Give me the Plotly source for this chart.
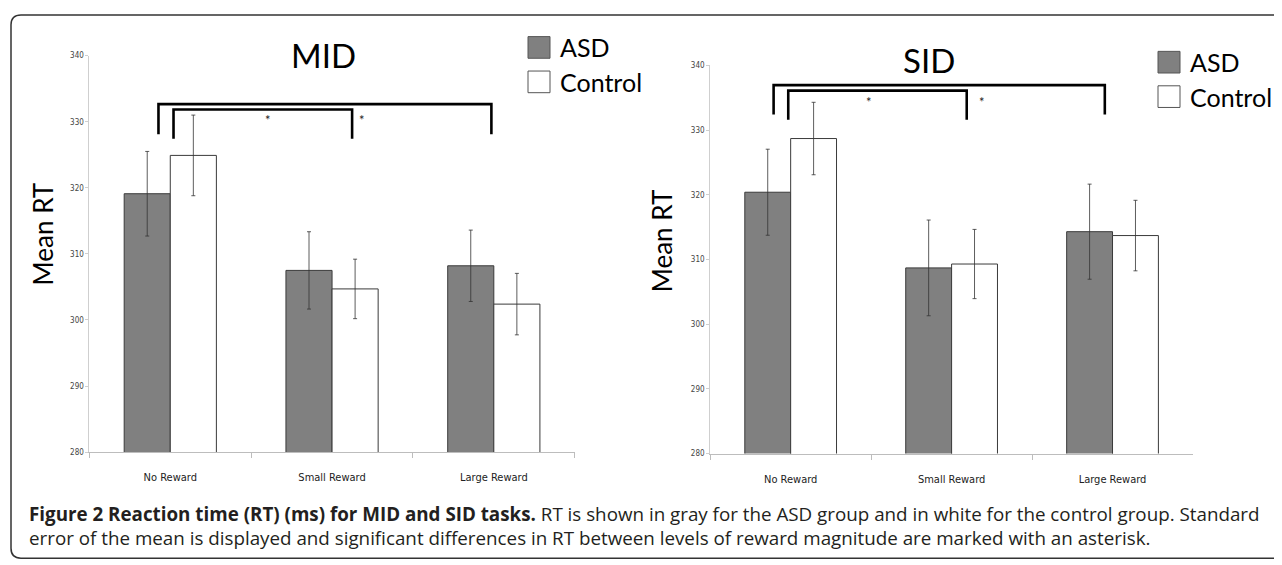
import plotly.graph_objects as go

W, H = 1282, 565
OFF = 8  # default page body margin of the exported html

categories = ["No Reward", "Small Reward", "Large Reward"]
y_ticks = [280, 290, 300, 310, 320, 330, 340]

mid_asd = [319.1, 307.5, 308.2]
mid_asd_err = [6.4, 5.85, 5.4]
mid_ctrl = [324.9, 304.7, 302.4]
mid_ctrl_err = [6.1, 4.5, 4.65]

sid_asd = [320.4, 308.7, 314.3]
sid_asd_err = [6.65, 7.4, 7.35]
sid_ctrl = [328.7, 309.3, 313.7]
sid_ctrl_err = [5.6, 5.35, 5.45]

# significance brackets: (x_start, x_end, y_top, y_leg_bottom) in category/data units
mid_brackets = [(-0.073, 1.985, 332.65, 328.1), (0.02, 1.124, 331.85, 327.4)]
mid_stars = [(0.606, 330.2), (1.186, 330.2)]
sid_brackets = [(-0.106, 1.952, 336.96, 332.4), (-0.015, 1.094, 336.1, 331.6)]
sid_stars = [(0.485, 334.4), (1.19, 334.4)]

ASD_FILL = "#808080"
EDGE = "#3a3a3a"
FONT = "Lato, Open Sans, sans-serif"
NARROW = "Liberation Sans Narrow, DejaVu Sans Condensed, Arial Narrow, sans-serif"


def px(x):
    return (x - OFF) / W


def py(y):
    return 1 - (y - OFF) / H


fig = go.Figure()

panels = [
    ("x", "y", mid_asd, mid_asd_err, mid_ctrl, mid_ctrl_err),
    ("x2", "y2", sid_asd, sid_asd_err, sid_ctrl, sid_ctrl_err),
]
for xa, ya, a, ae, c, ce in panels:
    fig.add_trace(go.Bar(
        x=categories, y=a, xaxis=xa, yaxis=ya, name="ASD", showlegend=False,
        marker=dict(color=ASD_FILL, line=dict(color=EDGE, width=1)),
        error_y=dict(type="data", array=ae, color="#333333", thickness=0.8, width=2),
    ))
    fig.add_trace(go.Bar(
        x=categories, y=c, xaxis=xa, yaxis=ya, name="Control", showlegend=False,
        marker=dict(color="white", line=dict(color=EDGE, width=1)),
        error_y=dict(type="data", array=ce, color="#333333", thickness=0.8, width=2),
    ))

axis_common_y = dict(
    range=[280, 340], tickvals=y_ticks, showgrid=False, zeroline=False,
    showline=True, linecolor="#cfcfcf", linewidth=1,
    ticks="outside", ticklen=3, tickcolor="#cfcfcf",
    tickfont=dict(family=NARROW, size=8, color="#444444"),
)
axis_common_x = dict(
    showgrid=False, zeroline=False, showline=True, linecolor="#bdbdbd", linewidth=1,
    ticks="outside", ticklen=5, tickcolor="#bdbdbd", tickson="boundaries",
    tickfont=dict(family=NARROW, size=11, color="#222222"),
    ticklabelstandoff=15,
    range=[-0.5, 2.5],
)

fig.update_layout(
    width=W, height=H,
    margin=dict(l=0, r=0, t=0, b=0),
    paper_bgcolor="white", plot_bgcolor="white",
    barmode="group", bargap=0.43, bargroupgap=0,
    xaxis=dict(domain=[px(89.4), px(574.7)], anchor="y", **axis_common_x),
    yaxis=dict(domain=[py(455.3), py(52.3)], anchor="x", **axis_common_y),
    xaxis2=dict(domain=[px(710.2), px(1193)], anchor="y2", **axis_common_x),
    yaxis2=dict(domain=[py(456.7), py(62.3)], anchor="x2", **axis_common_y),
    showlegend=False,
)

shapes = []
annotations = []

for xa, ya, brackets, stars in [("x", "y", mid_brackets, mid_stars), ("x2", "y2", sid_brackets, sid_stars)]:
    for x0, x1, yt, yb in brackets:
        shapes.append(dict(
            type="path", xref=xa, yref=ya,
            path=f"M {x0},{yb} L {x0},{yt} L {x1},{yt} L {x1},{yb}",
            line=dict(color="black", width=2.6),
        ))
    for sx, sy in stars:
        annotations.append(dict(
            x=sx, y=sy, xref=xa, yref=ya, text="*", showarrow=False,
            font=dict(family=FONT, size=13, color="#222222"),
        ))

# titles
for text, cx, cy in [("MID", 323, 52), ("SID", 929, 57)]:
    annotations.append(dict(
        x=px(cx), y=py(cy), xref="paper", yref="paper", text=text, showarrow=False,
        font=dict(family=FONT, size=33, color="black"), xanchor="center", yanchor="middle",
    ))

# y-axis titles
for cx, cy in [(43, 234), (662, 241)]:
    annotations.append(dict(
        x=px(cx), y=py(cy), xref="paper", yref="paper", text="Mean RT", showarrow=False,
        textangle=-90, font=dict(family=FONT, size=26, color="black"),
        xanchor="center", yanchor="middle",
    ))

# legends
legend_items = [
    (528, 33, 22, ASD_FILL, "ASD"),
    (528, 68, 22, "white", "Control"),
    (1158, 48, 22, ASD_FILL, "ASD"),
    (1158, 83, 22, "white", "Control"),
]
for lx, ly, s, col, lab in legend_items:
    shapes.append(dict(
        type="rect", xref="paper", yref="paper",
        x0=px(lx), x1=px(lx + s), y0=py(ly + s), y1=py(ly),
        fillcolor=col, line=dict(color="#555555", width=1),
    ))
    annotations.append(dict(
        x=px(lx + s + 8), y=py(ly + s / 2), xref="paper", yref="paper", text=lab,
        showarrow=False, xanchor="left", yanchor="middle",
        font=dict(family=FONT, size=25, color="black"),
    ))

# rounded frame
rx, ry = 10 / W, 10 / H
L, T, B, R = px(11), py(11), py(563), px(1300)
shapes.append(dict(
    type="path", xref="paper", yref="paper",
    path=(f"M {R},{T} L {L + rx},{T} Q {L},{T} {L},{T - ry} "
          f"L {L},{B + ry} Q {L},{B} {L + rx},{B} L {R},{B}"),
    line=dict(color="#333333", width=1.5),
))

caption = ("<b>Figure 2 Reaction time (RT) (ms) for MID and SID tasks.</b> RT is shown in gray for the ASD "
           "group and in white for the control group. Standard<br>"
           "error of the mean is displayed and significant differences in RT between levels of reward "
           "magnitude are marked with an asterisk.")
annotations.append(dict(
    x=px(27), y=py(530), xref="paper", yref="paper", text=caption, showarrow=False,
    xanchor="left", yanchor="middle", align="left",
    font=dict(family="Open Sans, sans-serif", size=18.8, color="#231f20"),
))

fig.update_layout(shapes=shapes, annotations=annotations)
fig.write_html("out.html")
